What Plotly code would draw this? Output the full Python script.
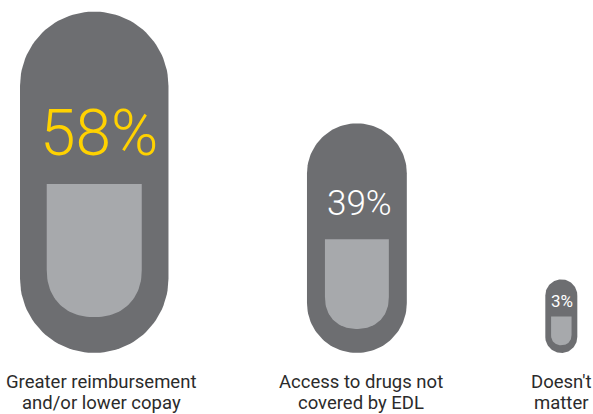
import numpy as np
import plotly.graph_objects as go

# ---- data ----
categories = ["Greater reimbursement<br>and/or lower copay",
              "Access to drugs not<br>covered by EDL",
              "Doesn't<br>matter"]
values = [58, 39, 3]
value_labels = [f"{v}%" for v in values]

# ---- style / layout constants ----
W, H = 593, 414
DARK = "#6d6e71"
LIGHT = "#a7a9ac"
VALUE_COLORS = ["#ffd200", "#ffffff", "#ffffff"]
VALUE_FONT_SIZES = [64, 35, 17]
VALUE_WEIGHTS = [300, 300, 400]
LABEL_COLOR = "#2b2b2b"
LABEL_SIZE = 18.5
PX_PER_PCT = 2.56      # capsule width per percentage point
MIN_WIDTH = 32         # minimum capsule width
ASPECT = 2.3           # capsule height / width
LEFT = 20              # left edge of first capsule
GAP = 138.5            # gap between capsules
BASE = 353             # common bottom of capsules
LABEL_LINE_Y = [382, 403]

fig = go.Figure()

def capsule(cx, top, bottom, r, n=60):
    t1 = np.linspace(np.pi, 2 * np.pi, n)
    t2 = np.linspace(0, np.pi, n)
    xs = np.concatenate([cx + r * np.cos(t1), cx + r * np.cos(t2)])
    ys = np.concatenate([top + r + r * np.sin(t1), bottom - r + r * np.sin(t2)])
    return np.append(xs, xs[0]), np.append(ys, ys[0])

def cup(cx, top, bottom, half_w, ry, p=2.2, n=60):
    t = np.linspace(0, np.pi, n)
    c, s = np.cos(t), np.sin(t)
    xs = cx + half_w * np.sign(c) * np.abs(c) ** (2 / p)
    ys = bottom - ry + ry * np.abs(s) ** (2 / p)
    xs = np.concatenate([[cx - half_w, cx + half_w], xs, [cx - half_w]])
    ys = np.concatenate([[top, top], ys, [top]])
    return xs, ys

x = LEFT
for i, v in enumerate(values):
    w = max(MIN_WIDTH, PX_PER_PCT * v)
    h = ASPECT * w
    cx = x + w / 2
    top = BASE - h
    ox, oy = capsule(cx, top, BASE, w / 2)
    fig.add_trace(go.Scatter(x=ox, y=oy, mode="lines", fill="toself",
                             fillcolor=DARK, line=dict(width=0, color=DARK),
                             hoverinfo="skip", showlegend=False))
    iw = 0.64 * w
    itop = top + 0.505 * h
    ibot = BASE - 0.105 * h
    ix, iy = cup(cx, itop, ibot, iw / 2, 0.5 * iw)
    fig.add_trace(go.Scatter(x=ix, y=iy, mode="lines", fill="toself",
                             fillcolor=LIGHT, line=dict(width=0, color=LIGHT),
                             hoverinfo="skip", showlegend=False))
    fig.add_annotation(x=cx + 0.03 * w, y=top + 0.375 * h - 6, xref="x", yref="y",
                       text=value_labels[i], showarrow=False,
                       font=dict(family="Roboto", size=VALUE_FONT_SIZES[i],
                                 color=VALUE_COLORS[i], weight=VALUE_WEIGHTS[i]),
                       xanchor="center", yanchor="middle")
    label_x = cx + 0.06 * (w - MIN_WIDTH)
    for line, ly in zip(categories[i].split("<br>"), LABEL_LINE_Y):
        fig.add_annotation(x=label_x, y=ly, xref="x", yref="y",
                           text=line, showarrow=False,
                           font=dict(family="Roboto", size=LABEL_SIZE,
                                     color=LABEL_COLOR),
                           xanchor="center", yanchor="middle")
    x += w + GAP

fig.update_xaxes(range=[0, W], visible=False, fixedrange=True)
fig.update_yaxes(range=[H, 0], visible=False, fixedrange=True)
fig.update_layout(width=W, height=H, margin=dict(l=0, r=0, t=0, b=0),
                  paper_bgcolor="white", plot_bgcolor="white")

fig.write_html("out.html")
